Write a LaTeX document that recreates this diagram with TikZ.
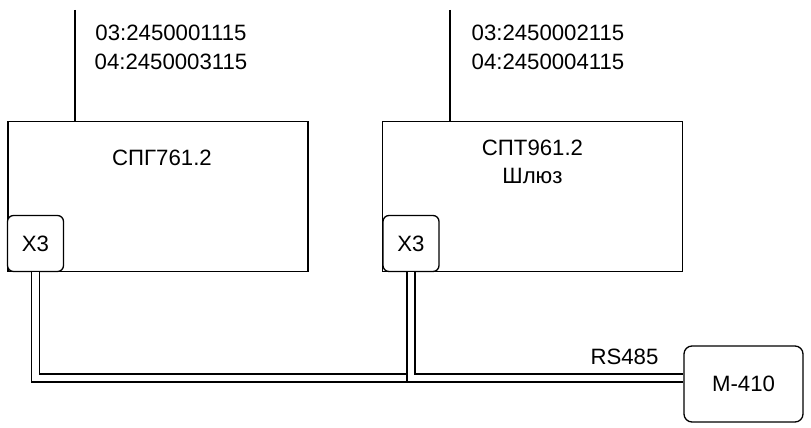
\documentclass[tikz,border=0pt]{standalone}
\usepackage{fontspec}
\setmainfont{Liberation Sans}
\begin{document}
\begin{tikzpicture}[x=1pt,y=-1pt,
  font=\fontsize{22.2}{26}\selectfont,
  box/.style={draw=black, line width=1.3pt, minimum width=300pt, minimum height=150pt, inner sep=0pt},
  port/.style={draw=black, line width=1.3pt, rounded corners=6pt, fill=white, minimum width=56pt, minimum height=56pt, inner sep=0pt},
  dev/.style={draw=black, line width=1.3pt, rounded corners=8pt, fill=white, minimum width=119pt, minimum height=76pt, inner sep=0pt},
  wire/.style={draw=black, line width=1.3pt, double=white, double distance=6.7pt},
  feed/.style={draw=black, line width=1.3pt},
  txt/.style={inner sep=0pt}]
\useasboundingbox (0,0) rectangle (811,428);

% top feeds
\coordinate (f1) at (75,10);
\coordinate (f2) at (450,10);

% main boxes
\node[box] (b1) at (158,196.5) {};
\node[box] (b2) at (532.5,196.5) {};

\draw[feed] (f1) -- (f1 |- b1.north);
\draw[feed] (f2) -- (f2 |- b2.north);

\node[txt] (t1a) at (171,33) {03:2450001115};
\node[txt] (t1b) at (171,62) {04:2450003115};
\node[txt] (t2a) at (548,33) {03:2450002115};
\node[txt] (t2b) at (548,62) {04:2450004115};

\node[txt] (n1) at (162,158) {СПГ761.2};
\node[txt] (n2) at (532.5,148) {СПТ961.2};
\node[txt] (n3) at (532.5,176) {Шлюз};

% ports
\node[port] (x1) at (35.5,243.5) {X3};
\node[port] (x2) at (411,243.5) {X3};

% device
\node[dev] (m) at (743.5,384) {M-410};
\node[txt] (rs) at (624.5,357) {RS485};

\coordinate (j) at (467,378);

% wires
\draw[wire] (x1.south) -- (x1.south |- j) -- (j -| m.west);
\draw[wire] (x2.south) -- (x2.south |- j) -- (j);
\end{tikzpicture}
\end{document}
